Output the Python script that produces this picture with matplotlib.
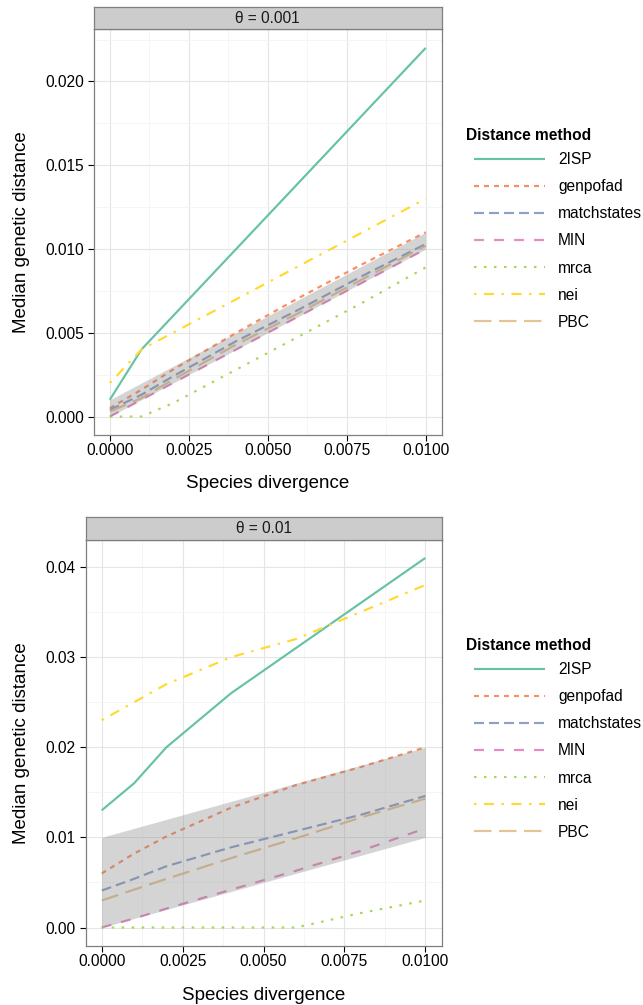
import matplotlib
matplotlib.use("Agg")
import matplotlib.pyplot as plt
from matplotlib.ticker import MultipleLocator, FormatStrFormatter

plt.rcParams['font.family'] = ['Liberation Sans', 'DejaVu Sans']
plt.rcParams['lines.scale_dashes'] = False

# ---------------- data ----------------
methods = ["2ISP", "genpofad", "matchstates", "MIN", "mrca", "nei", "PBC"]
divergence = [0.0, 0.001, 0.002, 0.004, 0.006, 0.008, 0.010]

# theta = 0.001
t1_2ISP        = [0.001, 0.004, 0.006, 0.010, 0.014, 0.018, 0.022]
t1_genpofad    = [0.0005, 0.0016, 0.0028, 0.0050, 0.0071, 0.0091, 0.0110]
t1_matchstates = [0.0004, 0.0013, 0.0024, 0.0045, 0.0064, 0.0084, 0.0103]
t1_MIN         = [0.0, 0.0010, 0.0020, 0.0040, 0.0060, 0.0080, 0.0100]
t1_mrca        = [0.0, 0.0, 0.0008, 0.0028, 0.0048, 0.0068, 0.0089]
t1_nei         = [0.002, 0.004, 0.005, 0.007, 0.009, 0.011, 0.013]
t1_PBC         = [0.0003, 0.0011, 0.0022, 0.0043, 0.0062, 0.0082, 0.0102]
t1_band_lo     = [0.0, 0.001, 0.002, 0.004, 0.006, 0.008, 0.010]
t1_band_hi     = [0.001, 0.002, 0.003, 0.005, 0.007, 0.009, 0.011]

# theta = 0.01
t2_2ISP        = [0.013, 0.016, 0.020, 0.026, 0.031, 0.036, 0.041]
t2_genpofad    = [0.0060, 0.0082, 0.0101, 0.0133, 0.0158, 0.0178, 0.0200]
t2_matchstates = [0.0041, 0.0054, 0.0068, 0.0089, 0.0107, 0.0125, 0.0146]
t2_MIN         = [0.0, 0.0010, 0.0021, 0.0042, 0.0063, 0.0085, 0.0110]
t2_mrca        = [0.0, 0.0, 0.0, 0.0, 0.0, 0.0016, 0.0030]
t2_nei         = [0.023, 0.025, 0.027, 0.030, 0.032, 0.035, 0.038]
t2_PBC         = [0.0030, 0.0042, 0.0054, 0.0077, 0.0099, 0.0122, 0.0143]
t2_band_lo     = [0.0, 0.001, 0.002, 0.004, 0.006, 0.008, 0.010]
t2_band_hi     = [0.010, 0.011, 0.012, 0.014, 0.016, 0.018, 0.020]

panel_titles = ["\u03b8 = 0.001", "\u03b8 = 0.01"]
x_ticks = [0.0, 0.0025, 0.005, 0.0075, 0.01]

# ---------------- styles ----------------
colors = {"2ISP": "#66C2A5", "genpofad": "#FC8D62", "matchstates": "#8DA0CB",
          "MIN": "#E78AC3", "mrca": "#A6D854", "nei": "#FFD92F", "PBC": "#E5C494"}
u = 1.8  # dash unit in points
styles = {"2ISP": "-",
          "genpofad": (0, (2*u, 2*u)),
          "matchstates": (0, (4*u, 2*u)),
          "MIN": (0, (4*u, 4*u)),
          "mrca": (0, (1*u, 3*u)),
          "nei": (0, (1*u, 3*u, 4*u, 3*u)),
          "PBC": (0, (7*u, 3*u))}
LW = 1.55

W, H = 643, 1005
DPI = 100
fig = plt.figure(figsize=(W/DPI, H/DPI), dpi=DPI)


def fr(l, t, r, b):
    return [l/W, 1 - b/H, (r-l)/W, (b-t)/H]


panels = [
    dict(ax=fr(94, 29.5, 441.5, 435), strip=fr(94, 7, 441.5, 29.5),
         series=[t1_2ISP, t1_genpofad, t1_matchstates, t1_MIN, t1_mrca, t1_nei, t1_PBC],
         lo=t1_band_lo, hi=t1_band_hi, ylim=(-0.0011, 0.0231), ymaj=0.005, ymin=0.0025,
         yfmt="%.3f", ylab_x=(30.5-94)/347.5, xlab_y=-0.0995,
         leg_top=152, title_y=135),
    dict(ax=fr(85.5, 539.5, 441.5, 946), strip=fr(85.5, 517, 441.5, 539.5),
         series=[t2_2ISP, t2_genpofad, t2_matchstates, t2_MIN, t2_mrca, t2_nei, t2_PBC],
         lo=t2_band_lo, hi=t2_band_hi, ylim=(-0.00205, 0.04305), ymaj=0.01, ymin=0.005,
         yfmt="%.2f", ylab_x=(30.5-85.5)/356, xlab_y=-0.100,
         leg_top=662, title_y=645),
]

for i, p in enumerate(panels):
    ax = fig.add_axes(p["ax"])
    for m, ys in zip(methods, p["series"]):
        ax.plot(divergence, ys, color=colors[m], linestyle=styles[m], lw=LW,
                label=m, zorder=3, solid_capstyle='butt', dash_capstyle='butt')
    ax.fill_between(divergence, p["lo"], p["hi"], color="#7f7f7f", alpha=0.33,
                    lw=0, zorder=4)
    ax.set_xlim(-0.0005, 0.0105)
    ax.set_xticks(x_ticks)
    ax.xaxis.set_major_formatter(FormatStrFormatter("%.4f"))
    ax.xaxis.set_minor_locator(MultipleLocator(0.00125))
    ax.yaxis.set_major_locator(MultipleLocator(p["ymaj"]))
    ax.yaxis.set_minor_locator(MultipleLocator(p["ymin"]))
    ax.yaxis.set_major_formatter(FormatStrFormatter(p["yfmt"]))
    ax.set_ylim(*p["ylim"])
    ax.grid(which="major", color="#E5E5E5", lw=0.8, zorder=0)
    ax.grid(which="minor", color="#F4F4F4", lw=0.6, zorder=0)
    ax.set_axisbelow(True)
    for s in ax.spines.values():
        s.set_color("#7F7F7F")
        s.set_linewidth(0.9)
    ax.tick_params(which="major", direction="out", length=4.3, width=0.8,
                   color="black", labelsize=11.2, labelcolor="black")
    ax.tick_params(axis="x", pad=1.5)
    ax.tick_params(axis="y", pad=3.0)
    ax.tick_params(which="minor", length=0)
    ax.set_xlabel("Species divergence", fontsize=13.5)
    ax.xaxis.set_label_coords(0.5, p["xlab_y"])
    ax.set_ylabel("Median genetic distance", fontsize=13.5)
    ax.yaxis.set_label_coords(p["ylab_x"], 0.5)

    sax = fig.add_axes(p["strip"])
    sax.set_facecolor("#CCCCCC")
    sax.set_xticks([])
    sax.set_yticks([])
    for s in sax.spines.values():
        s.set_color("#7F7F7F")
        s.set_linewidth(0.9)
    sax.text(0.5, 0.5, panel_titles[i], ha="center", va="center", fontsize=11.2,
             color="#1A1A1A", transform=sax.transAxes)

    handles, labels = ax.get_legend_handles_labels()
    fig.text(466/W, 1 - p["title_y"]/H, "Distance method", fontsize=11.2,
             fontweight="bold", ha="left", va="center")
    fig.legend(handles, labels, loc="upper left",
               bbox_to_anchor=(474/W, 1 - p["leg_top"]/H),
               bbox_transform=fig.transFigure, frameon=False,
               fontsize=11.2, handlelength=4.59, handletextpad=0.81,
               labelspacing=0.78, borderpad=0, borderaxespad=0)

fig.savefig("out.png", dpi=DPI)
